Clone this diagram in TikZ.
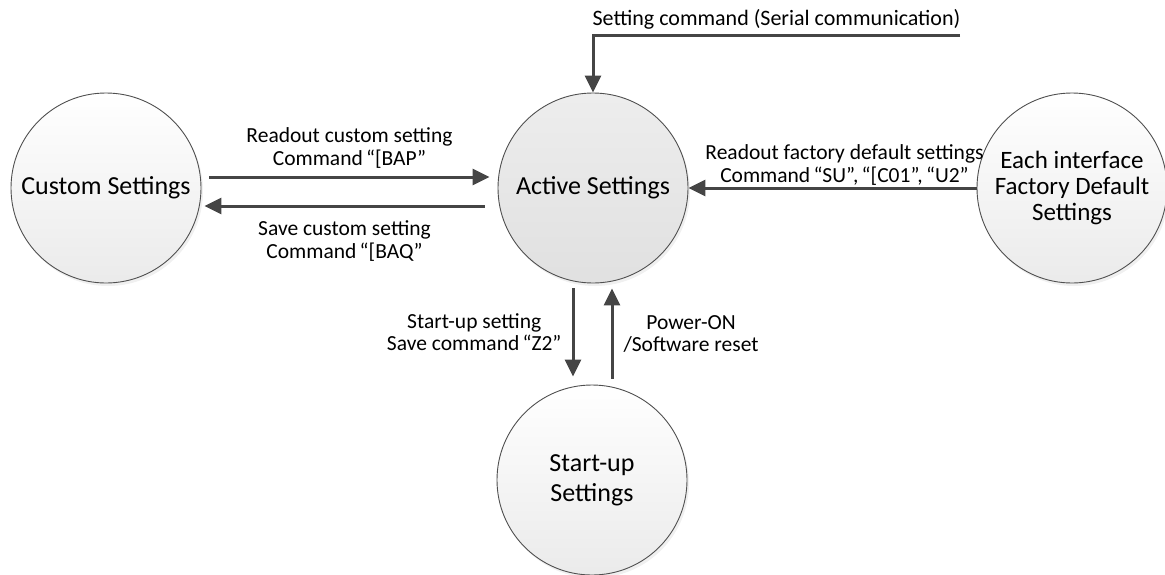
\documentclass[tikz,border=0pt]{standalone}
\usepackage{fontspec}
\setmainfont{Carlito}
\usepackage{xcolor}
\usepackage{tikz}
\usetikzlibrary{arrows.meta,shadows}

\definecolor{rim}{HTML}{505050}
\definecolor{flowgray}{HTML}{454545}
\newcommand{\qo}{\hspace{0.15em}“}

\begin{document}
\begin{tikzpicture}[x=1pt, y=-1pt,
	state/.style={circle, draw=rim, line width=0.9pt, minimum size=190pt, inner sep=0pt, align=center,
		font=\fontsize{26}{30}\selectfont, top color=white, bottom color=black!8,
		drop shadow={opacity=0.12, shadow xshift=2pt, shadow yshift=-3pt}},
	flow/.style={draw=flowgray, line width=3pt, -{Triangle[length=17pt,width=16pt]}},
	note/.style={font=\fontsize{21.5}{23}\selectfont, align=center, inner sep=0pt}]

\useasboundingbox (0,0) rectangle (1165,574);

\node[state] (custom) at (106,188) {Custom Settings};
\node[state, top color=black!7, bottom color=black!12] (active) at (593,188) {Active Settings};
\node[state, font=\fontsize{25}{26}\selectfont] (factory) at (1072,188) {Each interface\\Factory Default\\Settings};
\node[state] (startup) at (592,480) {Start-up\\Settings};

\coordinate (serial) at (960,35);

\draw[flow] (serial) -| node[note, pos=0.25, above=4pt, font=\fontsize{22}{23}\selectfont] {Setting command (Serial communication)} (active.north);

\draw[flow] ([xshift=8pt,yshift=11pt]custom.east) -- node[note, above=7pt] {Readout custom setting\\Command\qo[BAP”} ([xshift=-8pt,yshift=11pt]active.west);
\draw[flow] ([xshift=-13pt,yshift=-18pt]active.west) -- node[note, below=13pt] {Save custom setting\\Command\qo[BAQ”} ([xshift=3pt,yshift=-18pt]custom.east);

\draw[flow] (factory.west) -- node[note, above=1pt, xshift=12pt] {Readout factory default settings\\Command\qo SU”,\qo[C01”,\qo U2”} (active.east);

\draw[flow] ([xshift=-20pt,yshift=-5pt]active.south) -- node[note, left=10pt, font=\fontsize{21.5}{22}\selectfont] {Start-up setting\\Save command\qo Z2”} ([xshift=-19pt,yshift=8pt]startup.north);
\draw[flow] ([xshift=20pt,yshift=6pt]startup.north) -- node[note, right=10pt, font=\fontsize{21.5}{22}\selectfont] {Power-ON\\/Software reset} ([xshift=19pt,yshift=-5pt]active.south);

\end{tikzpicture}
\end{document}
